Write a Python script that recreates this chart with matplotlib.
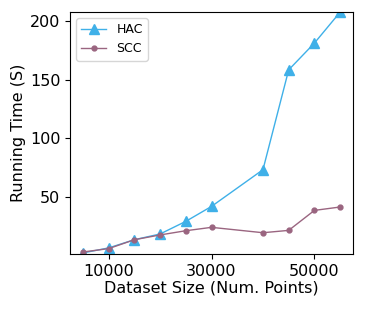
import numpy as np
import matplotlib
matplotlib.use('Agg')
import matplotlib.pyplot as plt

sizes = [5000, 10000, 15000, 20000, 25000, 30000, 40000, 45000, 50000, 55000]
hac_time = [1.9, 6.2, 13.2, 18.1, 28.9, 41.7, 73.1, 158.5, 181.4, 207.9]
scc_time = [2.7, 5.6, 13.2, 17.3, 20.9, 23.8, 19.2, 21.2, 38.3, 41.2]

fig = plt.figure(figsize=(3.66, 3.10), dpi=100)
ax = fig.add_axes([70/366, 1-254/310, 283/366, 242/310])

ax.plot(sizes, hac_time, color='#3fb0e8', marker='^', markersize=7, linewidth=1.0, label='HAC')
ax.plot(sizes, scc_time, color='#9a6580', marker='o', markersize=3.5, linewidth=1.0, label='SCC')

ax.set_ylim(1, 208)
ax.set_xticks([10000, 30000, 50000])
ax.set_yticks([50, 100, 150, 200])
ax.tick_params(labelsize=11.5)
ax.set_xlabel('Dataset Size (Num. Points)', fontsize=11.5, labelpad=1)
ax.set_ylabel('Running Time (S)', fontsize=11.5, labelpad=3)
ax.legend(loc='upper left', fontsize=9)

plt.savefig('out.png', dpi=100)
